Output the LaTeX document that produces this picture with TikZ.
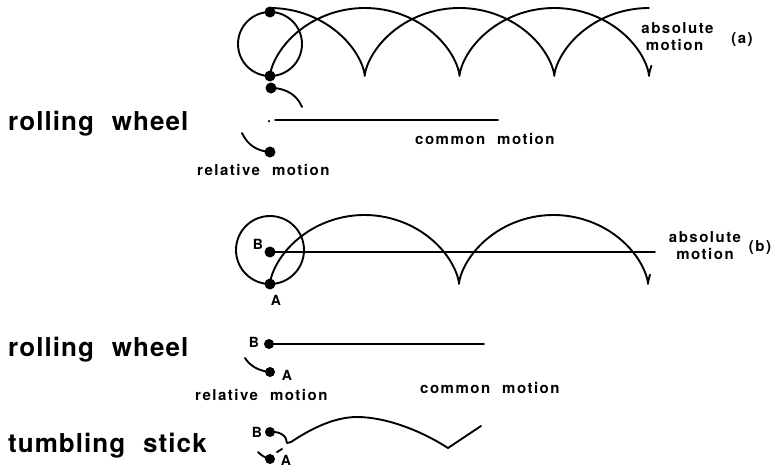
\documentclass[tikz,border=0pt]{standalone}
\usepackage{fontspec}
\setmainfont{TeX Gyre Heros}
\newfontfamily\bigfam[LetterSpace=4]{TeX Gyre Heros}
\newfontfamily\smfam[LetterSpace=10]{TeX Gyre Heros}
\begin{document}
\begin{tikzpicture}[x=1pt,y=-1pt,
  ln/.style={line width=1.9pt, line cap=round, line join=round},
  bigdot/.style={circle, fill=black, inner sep=0pt, minimum size=11pt},
  smdot/.style={circle, fill=black, inner sep=0pt, minimum size=10pt},
  tinydot/.style={circle, fill=black, inner sep=0pt, minimum size=2.5pt},
  bigtxt/.style={font=\bigfam\bfseries\fontsize{26}{30}\selectfont, inner sep=0pt, anchor=base west},
  smtxt/.style={font=\smfam\bfseries\fontsize{15}{18}\selectfont, inner sep=0pt},
  lbl/.style={font=\bfseries\fontsize{14}{16}\selectfont, inner sep=0pt}]
\useasboundingbox (0,0) rectangle (777,467);

% ---------- panel (a) ----------
\draw[ln] (270,44) circle[radius=32];
\node[bigdot] (aTop) at (270,12) {};
\node[bigdot] (aBot) at (270,76) {};
\node[bigdot] (aRel) at (271,88) {};
\coordinate (aRelEnd) at (302,107);
\draw[ln] (aRel.center) .. controls (288,88) and (298,97) .. (aRelEnd);
% absolute motion: two trains of cycloids
\draw[ln] plot[domain=0:4*pi+0.8, samples=200, variable=\t, smooth]
  ({270 + 189.5/(2*pi)*(\t - sin(\t r))}, {76 - 34*(1-cos(\t r))});
\draw[ln] plot[domain=pi:5*pi, samples=200, variable=\t, smooth]
  ({175.25 + 189.5/(2*pi)*(\t - sin(\t r))}, {76 - 34*(1-cos(\t r))});
% common motion
\node[tinydot] (aSmall) at (269,121) {};
\coordinate (aCm1) at (275,120);
\coordinate (aCm2) at (498,120);
\draw[ln] (aCm1) -- (aCm2);
% relative motion
\coordinate (aRs) at (242,133);
\node[bigdot] (aRel2) at (270,152) {};
\draw[ln] (aRs) .. controls (248,146) and (258,151) .. (aRel2.center);
% texts
\node[bigtxt] (rwA) at (8,130) {rolling\hspace{18pt}wheel};
\node[smtxt, anchor=base west] (cmA) at (415,144) {common\hspace{12pt}motion};
\node[smtxt, anchor=base west] (rmA) at (197,175) {relative\hspace{12pt}motion};
\node[smtxt, anchor=base] (abA) at (677.5,33) {absolute};
\node[smtxt, anchor=base] (moA) at (674.5,50) {motion};
\node[smtxt, anchor=base] (la) at (742,43) {(a)};

% ---------- panel (b) ----------
\draw[ln] (270,250) circle[radius=34];
\node[bigdot] (bB) at (270,252) {};
\node[bigdot] (bA) at (270,284) {};
\node[lbl] (bBl) at (258,244) {B};
\node[lbl] (bAl) at (276,300) {A};
\coordinate (bEnd) at (655,252);
\draw[ln] (bB.center) -- (bEnd);
\draw[ln] plot[domain=0:4*pi+0.75, samples=200, variable=\t, smooth]
  ({270 + 189/(2*pi)*(\t - sin(\t r))}, {284 - 34.5*(1-cos(\t r))});
\node[smtxt, anchor=base] (abB) at (705,242) {absolute};
\node[smtxt, anchor=base] (moB) at (705,259) {motion};
\node[smtxt, anchor=base] (lb) at (760,251) {(b)};

% ---------- rolling wheel (lower) ----------
\node[bigtxt] (rwB) at (8,356) {rolling\hspace{18pt}wheel};
\node[smdot] (cB) at (269,344) {};
\node[lbl] (cBl) at (254,342) {B};
\coordinate (cEnd) at (484,344);
\draw[ln] (cB.center) -- (cEnd);
\coordinate (cRs) at (245,358);
\node[smdot] (cA) at (270,372) {};
\node[lbl] (cAl) at (287,375) {A};
\draw[ln] (cRs) .. controls (250,366) and (259,371) .. (cA.center);
\node[smtxt, anchor=base west] (rmB) at (195,400) {relative\hspace{12pt}motion};
\node[smtxt, anchor=base west] (cmB) at (420,393) {common\hspace{12pt}motion};

% ---------- tumbling stick ----------
\node[bigtxt] (ts) at (8,452) {tumbling\hspace{18pt}stick};
\node[smdot] (dB) at (270,432) {};
\node[lbl] (dBl) at (257,432) {B};
\coordinate (dH1) at (287,443);
\coordinate (dH2) at (291,442);
\draw[ln] (dB.center) .. controls (280,431) and (287,436) .. (dH1) -- (dH2);
\coordinate (dPk) at (357,417);
\coordinate (dLo) at (448,448);
\coordinate (dEnd) at (481,426);
\draw[ln] (dH2) .. controls (312,428) and (335,417) .. (dPk)
  .. controls (385,417) and (420,430) .. (dLo) -- (dEnd);
\coordinate (dd1) at (277,452);
\coordinate (dd2) at (282,449);
\draw[ln] (dd1) -- (dd2);
\coordinate (dAs) at (258,452);
\node[smdot] (dA) at (270,459) {};
\draw[ln] (dAs) .. controls (261,455) and (265,458) .. (dA.center);
\node[lbl] (dAl) at (286,460) {A};
\end{tikzpicture}
\end{document}
